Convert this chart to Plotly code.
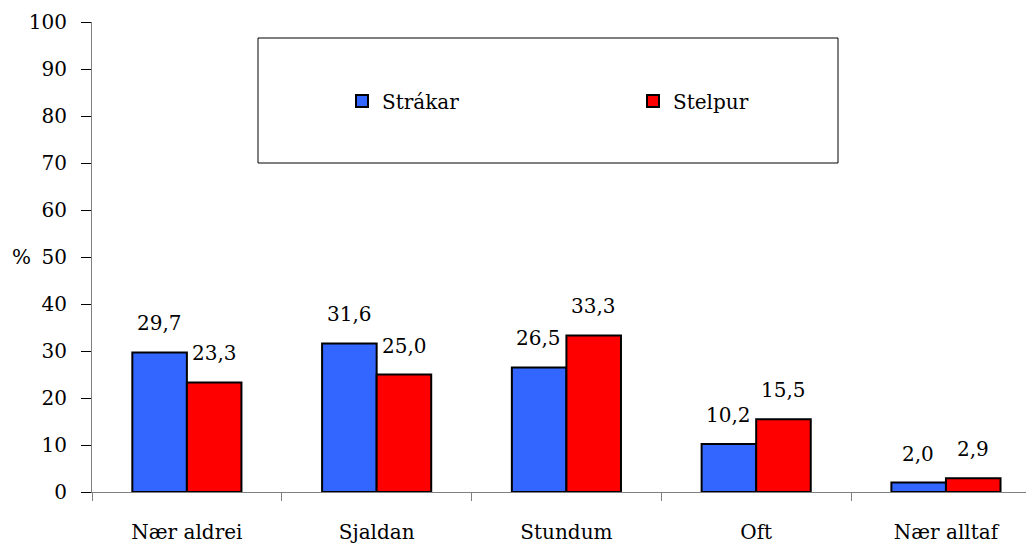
import plotly.graph_objects as go

categories = ["Nær aldrei", "Sjaldan", "Stundum", "Oft", "Nær alltaf"]
strakar = [29.7, 31.6, 26.5, 10.2, 2.0]
stelpur = [23.3, 25.0, 33.3, 15.5, 2.9]
series_names = ["Strákar", "Stelpur"]
y_ticks = list(range(0, 101, 10))

FONT = "DejaVu Serif"
FS = 20
BLUE = "#3366FF"
RED = "#FF0000"

# the page body has an 8px margin; offset so the plot lands where the reference has it
OFF = 8
L, T, PW, PH = 92 - OFF, 22 - OFF, 942, 470

fig = go.Figure()
fig.add_trace(go.Bar(x=categories, y=strakar, name=series_names[0],
                     marker=dict(color=BLUE, line=dict(color="black", width=2))))
fig.add_trace(go.Bar(x=categories, y=stelpur, name=series_names[1],
                     marker=dict(color=RED, line=dict(color="black", width=2))))

def fmt(v):
    return f"{v:.1f}".replace(".", ",")

for vals, dx in ((strakar, -27.5), (stelpur, 27.5)):
    for c, v in zip(categories, vals):
        fig.add_annotation(x=c, y=v, text=fmt(v), showarrow=False,
                           xshift=dx, yshift=29, yanchor="middle",
                           font=dict(family=FONT, size=FS, color="black"))

fig.add_annotation(xref="paper", yref="paper", x=-0.075, y=0.5, text="%",
                   showarrow=False, xanchor="center", yanchor="middle",
                   font=dict(family=FONT, size=FS, color="black"))

# legend frame
fig.add_shape(type="rect", xref="paper", yref="paper",
              x0=(258 - 92) / PW, x1=(838 - 92) / PW,
              y0=(492 - 163) / PH, y1=(492 - 38) / PH,
              line=dict(color="black", width=1), fillcolor="white", layer="below")

fig.update_layout(
    width=1034 - OFF, height=546 - OFF,
    margin=dict(l=L, r=0, t=T, b=546 - OFF - T - PH),
    paper_bgcolor="white", plot_bgcolor="white",
    barmode="group", bargap=0.425, bargroupgap=0,
    font=dict(family=FONT, size=FS, color="black"),
    showlegend=True,
    legend=dict(orientation="h", x=(342 - 92) / PW, y=(492 - 101) / PH,
                xanchor="left", yanchor="middle",
                entrywidth=246, entrywidthmode="pixels",
                bgcolor="rgba(0,0,0,0)", borderwidth=0,
                font=dict(family=FONT, size=FS, color="black")),
    xaxis=dict(range=[-0.5, 4.464], showline=True, linecolor="#808080", linewidth=1,
               ticks="outside", tickson="boundaries", ticklen=8, tickcolor="#808080",
               showgrid=False, zeroline=False, ticklabelstandoff=22,
               tickfont=dict(family=FONT, size=FS, color="black")),
    yaxis=dict(range=[0, 100], tickvals=y_ticks, showline=True, linecolor="#808080",
               linewidth=1, ticks="outside", ticklen=10, tickcolor="black",
               showgrid=False, zeroline=False, ticklabelstandoff=10,
               tickfont=dict(family=FONT, size=FS, color="black")),
)

fig.write_html("out.html")
